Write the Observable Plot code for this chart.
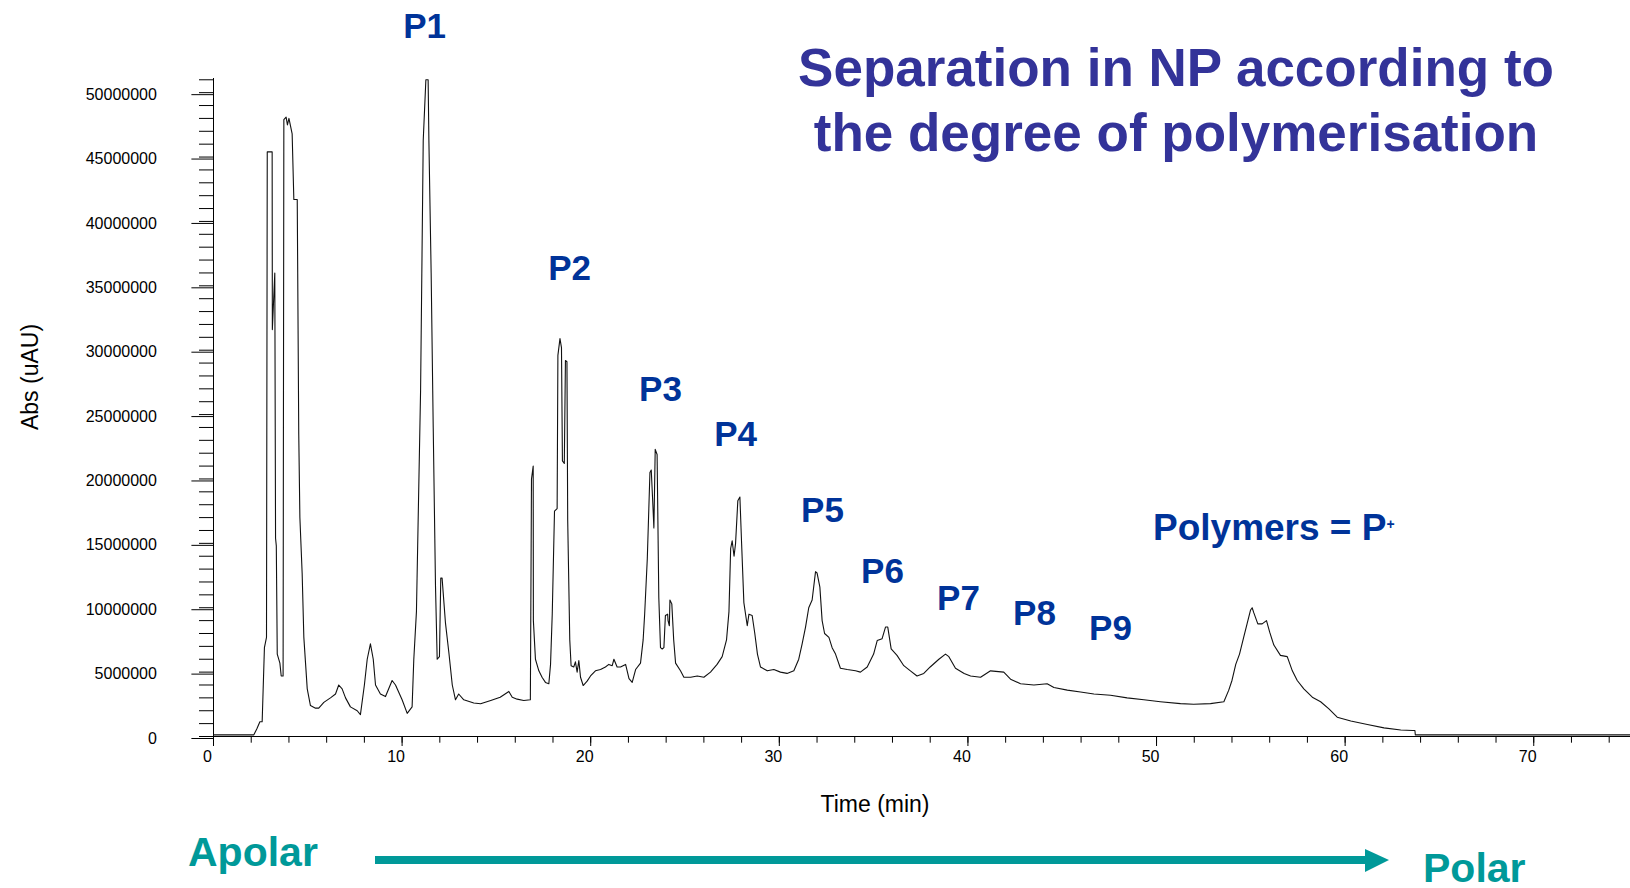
<!DOCTYPE html>
<html><head><meta charset="utf-8">
<script src="https://cdn.jsdelivr.net/npm/d3@7"></script>
<script src="https://cdn.jsdelivr.net/npm/@observablehq/plot@0.6"></script>
<style>html,body{margin:0;padding:0;background:#fff;} svg{display:block}</style>
</head><body>
<div id="chart"></div>
<script>
// Chromatogram trace: [time (min), Abs (millions of uAU)]
const chromatogram = [
[0,0.13],[2.14,0.13],[2.3,0.6],[2.46,1.15],[2.58,1.15],[2.7,6.9],[2.81,7.7],[2.85,45.4],[3.11,45.4],[3.11,45.0],
[3.12,31.6],[3.25,36.0],[3.29,15.4],[3.33,14.8],[3.38,6.4],[3.52,5.7],[3.59,4.7],[3.69,4.7],[3.73,47.9],[3.85,48.1],
[3.92,47.5],[4.0,48.0],[4.17,46.8],[4.26,41.7],[4.44,41.7],[4.52,23.5],[4.58,17.0],[4.70,12.7],[4.79,7.7],[4.88,5.7],
[4.97,3.7],[5.14,2.4],[5.41,2.2],[5.58,2.2],[5.85,2.65],[6.2,3.0],[6.47,3.3],[6.64,4.0],[6.82,3.7],[7.0,3.0],
[7.26,2.3],[7.62,2.0],[7.79,1.7],[8.0,4.0],[8.15,6.0],[8.32,7.2],[8.47,6.0],[8.59,4.0],[8.85,3.3],[9.12,3.1],
[9.47,4.35],[9.65,4.0],[10.0,2.85],[10.27,1.8],[10.53,2.3],[10.62,6.0],[10.76,9.7],[10.98,26.9],[11.12,46.3],[11.26,51.0],
[11.38,51.0],[11.42,46.3],[11.54,36.0],[11.65,24.0],[11.77,11.7],[11.86,6.0],[11.98,6.2],[12.05,12.3],[12.12,12.3],[12.3,8.8],
[12.48,6.5],[12.66,4.0],[12.83,2.85],[13.0,3.3],[13.27,2.85],[13.8,2.6],[14.16,2.54],[14.7,2.8],[15.2,3.05],[15.66,3.5],
[15.84,3.05],[16.1,2.9],[16.45,2.8],[16.8,2.85],[16.86,20.0],[16.95,21.0],[16.96,9.0],[17.07,6.0],[17.25,5.1],[17.42,4.6],
[17.6,4.2],[17.78,4.1],[17.87,5.6],[17.96,9.5],[18.08,17.5],[18.22,17.7],[18.26,29.6],[18.37,30.9],[18.45,30.2],[18.5,21.4],
[18.6,21.2],[18.66,29.2],[18.74,29.1],[18.78,16.8],[18.89,7.5],[18.96,5.5],[19.1,5.4],[19.19,5.8],[19.28,5.0],[19.37,5.9],
[19.46,4.6],[19.6,3.96],[19.81,4.3],[19.99,4.7],[20.25,5.1],[20.52,5.2],[20.78,5.4],[20.96,5.6],[21.14,5.5],[21.23,6.0],
[21.4,5.4],[21.58,5.4],[21.85,5.6],[22.03,4.5],[22.2,4.2],[22.38,5.2],[22.64,5.7],[22.78,7.5],[22.86,9.5],[23.0,13.8],
[23.14,20.5],[23.21,20.7],[23.28,18.5],[23.35,16.2],[23.42,22.3],[23.52,21.9],[23.61,10.8],[23.7,6.9],[23.79,6.8],[23.88,6.9],
[23.96,9.4],[24.08,9.5],[24.1,9.0],[24.17,8.6],[24.2,10.6],[24.3,10.3],[24.4,7.5],[24.5,5.7],[24.76,5.1],[24.94,4.6],
[25.3,4.6],[25.65,4.7],[26.0,4.6],[26.35,5.0],[26.7,5.6],[26.97,6.2],[27.2,7.5],[27.33,9.7],[27.42,14.6],[27.5,15.2],
[27.6,14.0],[27.68,15.0],[27.8,18.3],[27.91,18.6],[28.0,15.0],[28.12,10.4],[28.3,8.6],[28.39,9.5],[28.56,9.4],[28.7,8.0],
[28.84,6.4],[29.0,5.4],[29.36,5.1],[29.71,5.2],[30.06,5.0],[30.41,4.9],[30.77,5.1],[31.03,6.0],[31.21,7.2],[31.39,8.5],
[31.56,10.0],[31.74,10.6],[31.92,12.8],[32.0,12.7],[32.15,11.6],[32.27,9.0],[32.4,8.0],[32.63,7.7],[32.8,6.9],[32.98,6.4],
[33.24,5.3],[33.6,5.2],[34.04,5.1],[34.3,5.0],[34.66,5.4],[35.0,6.4],[35.19,7.45],[35.45,7.6],[35.63,8.5],[35.75,8.5],
[35.93,6.8],[36.24,6.3],[36.6,5.5],[36.95,5.1],[37.3,4.7],[37.66,4.9],[38.0,5.4],[38.46,6.0],[38.81,6.4],[38.99,6.2],
[39.34,5.3],[39.8,4.9],[40.14,4.7],[40.67,4.6],[41.2,5.1],[41.9,5.0],[42.26,4.45],[42.79,4.1],[43.5,4.0],[44.2,4.1],
[44.56,3.8],[45.27,3.6],[45.97,3.45],[46.68,3.3],[47.56,3.2],[48.44,3.0],[49.33,2.85],[50.2,2.7],[51.27,2.55],[51.97,2.5],
[52.86,2.55],[53.57,2.7],[53.83,3.6],[54.0,4.35],[54.2,5.6],[54.4,6.4],[54.62,7.7],[54.8,8.75],[54.98,9.8],[55.07,10.0],
[55.16,9.6],[55.37,8.75],[55.6,8.75],[55.83,9.0],[56.0,8.1],[56.22,7.1],[56.57,6.3],[56.93,6.2],[57.2,5.1],[57.46,4.35],
[57.81,3.7],[58.26,3.05],[58.7,2.7],[59.14,2.15],[59.58,1.5],[60.3,1.2],[61.18,0.93],[62.06,0.67],[62.95,0.5],[63.57,0.47],
[63.7,0.47],[63.72,0.13],[75.13,0.13]
];

// Peak annotations (time in min, Abs in millions of uAU)
const peakLabels = ["P1","P2","P3","P4","P5","P6","P7","P8","P9"];
const peakLabelTime = [11.19, 18.88, 23.7, 27.68, 32.29, 35.47, 39.5, 43.53, 47.56];
const peakLabelAbs = [55.1, 36.3, 26.9, 23.4, 17.5, 12.8, 10.7, 9.55, 8.4];
const polymerLabel = "Polymers = P";
const polymerSup = "+";
const polymerLabelTime = 49.84;
const polymerLabelAbs = 16.15;

// Axes
const xDomain = [0, 75.13];
const yDomain = [0, 51.1];
const xMajorTicks = [0, 10, 20, 30, 40, 50, 60, 70];
const xMinorTicks = d3.range(0, 75, 2);
const yMajorTicks = [0, 5, 10, 15, 20, 25, 30, 35, 40, 45, 50];
const yMinorTicks = d3.range(0, 52, 1);
const xLabel = "Time (min)";
const yLabel = "Abs (uAU)";
const titleLines = ["Separation in NP according to", "the degree of polymerisation"];
const leftLabel = "Apolar";
const rightLabel = "Polar";

const FONT = "'Liberation Sans', Arial, Helvetica, sans-serif";
const data = chromatogram.map(([t, a]) => ({t, a}));
const labelData = peakLabels.map((text, i) => ({text, t: peakLabelTime[i], a: peakLabelAbs[i]}));

const plot = Plot.plot({
  width: 1630,
  height: 888,
  marginLeft: 213,
  marginRight: 0,
  marginTop: 78,
  marginBottom: 152,
  style: {fontFamily: FONT, color: "black", background: "white", overflow: "visible"},
  x: {domain: xDomain, label: null},
  y: {domain: yDomain, label: null},
  marks: [
    Plot.ruleX([0], {stroke: "black", strokeWidth: 1}),
    Plot.ruleY([0], {stroke: "black", strokeWidth: 1}),
    Plot.axisY({ticks: yMinorTicks, tickSize: 14, tickFormat: () => "", label: null}),
    Plot.axisY({ticks: yMajorTicks, tickSize: 21.6, tickPadding: 35, fontSize: 16, dy: 2,
      tickFormat: d => d3.format("d")(Math.round(d * 1e6)), label: null}),
    Plot.axisX({ticks: xMinorTicks, tickSize: 6.7, tickFormat: () => "", label: null}),
    Plot.axisX({ticks: xMajorTicks, tickSize: 10, tickFormat: () => "", label: null}),
    Plot.axisX({ticks: xMajorTicks, tickSize: 0, tickPadding: 14, dx: -6, fontSize: 16,
      tickFormat: d3.format("d"), label: null}),
    Plot.line(data, {x: "t", y: "a", stroke: "#111", strokeWidth: 1.1}),
    Plot.text(labelData, {x: "t", y: "a", text: "text", fill: "#003399", fontWeight: "bold",
      fontSize: 35, lineAnchor: "middle", textAnchor: "middle"})
  ]
});
document.getElementById("chart").appendChild(plot);

const svg = d3.select(plot);
// title
svg.append("g")
  .attr("font-family", FONT).attr("font-weight", "bold").attr("font-size", 53)
  .attr("fill", "#333399").attr("text-anchor", "middle")
  .selectAll("text").data(titleLines).join("text")
  .attr("x", 1176).attr("y", (d, i) => 86 + i * 65).text(d => d);

// polymers label with superscript
const px = plot.scale("x").apply(polymerLabelTime);
const py = plot.scale("y").apply(polymerLabelAbs);
const pt = svg.append("text")
  .attr("x", px).attr("y", py).attr("dy", "0.32em").attr("text-anchor", "start")
  .attr("font-family", FONT).attr("font-weight", "bold").attr("font-size", 37)
  .attr("fill", "#003399");
pt.append("tspan").text(polymerLabel);
pt.append("tspan").attr("font-size", 14).attr("dy", -11).text(polymerSup);

// axis titles
svg.append("text").attr("transform", "translate(38,377) rotate(-90)")
  .attr("text-anchor", "middle").attr("font-family", FONT).attr("font-size", 23)
  .attr("fill", "black").text(yLabel);
svg.append("text").attr("x", 875).attr("y", 812)
  .attr("text-anchor", "middle").attr("font-family", FONT).attr("font-size", 23)
  .attr("fill", "black").text(xLabel);

// polarity arrow
const teal = "#009999";
svg.append("rect").attr("x", 375).attr("y", 856).attr("width", 990).attr("height", 8).attr("fill", teal);
svg.append("polygon").attr("points", "1365,849 1389,860 1365,872").attr("fill", teal);
svg.append("text").attr("x", 188).attr("y", 866).attr("text-anchor", "start")
  .attr("font-family", FONT).attr("font-weight", "bold").attr("font-size", 41)
  .attr("fill", teal).text(leftLabel);
svg.append("text").attr("x", 1423).attr("y", 882).attr("text-anchor", "start")
  .attr("font-family", FONT).attr("font-weight", "bold").attr("font-size", 41)
  .attr("fill", teal).text(rightLabel);
</script>
</body></html>
